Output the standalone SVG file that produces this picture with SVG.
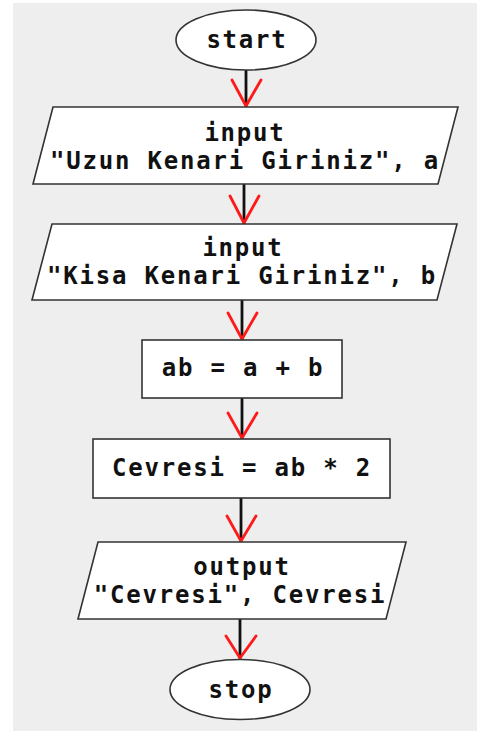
<svg xmlns="http://www.w3.org/2000/svg" width="477" height="731" viewBox="0 0 477 731">
<style>
.bg{fill:#eeeeee}
.shape{fill:#ffffff;stroke:#333333;stroke-width:1.6}
.t{font-family:"DejaVu Sans Mono","Liberation Mono",monospace;font-weight:bold;font-size:24px;letter-spacing:1.8px;fill:#111111;text-anchor:middle}
.line{stroke:#111111;stroke-width:2.8;fill:none}
.head{stroke:#ff1a1a;stroke-width:2.8;fill:none;stroke-linecap:round;stroke-linejoin:round}
</style>
<rect class="bg" x="13" y="3" width="464" height="728"/>
<g id="connectors">
  <line class="line" x1="246" y1="70" x2="246" y2="107"/>
  <polyline class="head" points="232,80 246,106 261,80"/>
  <line class="line" x1="244" y1="184" x2="244" y2="224"/>
  <polyline class="head" points="230,196 244,223 259,196"/>
  <line class="line" x1="242" y1="300" x2="242" y2="340"/>
  <polyline class="head" points="228,313 242,339 257,313"/>
  <line class="line" x1="242" y1="398" x2="242" y2="439"/>
  <polyline class="head" points="228,413 242,438 257,413"/>
  <line class="line" x1="241" y1="498" x2="241" y2="542"/>
  <polyline class="head" points="227,516 241,541 256,516"/>
  <line class="line" x1="240" y1="619" x2="240" y2="659"/>
  <polyline class="head" points="226,636 240,658 256,636"/>
</g>
<g id="start">
  <ellipse class="shape" cx="246" cy="40" rx="70" ry="30"/>
  <text class="t" x="247" y="48">start</text>
</g>
<g id="input1">
  <polygon class="shape" points="53,107 458,107 438,184 33,184"/>
  <text class="t" x="245" y="141">input</text>
  <text class="t" x="245" y="169">"Uzun Kenari Giriniz", a</text>
</g>
<g id="input2">
  <polygon class="shape" points="52,224 457,224 437,300 32,300"/>
  <text class="t" x="243" y="256">input</text>
  <text class="t" x="242" y="284">"Kisa Kenari Giriniz", b</text>
</g>
<g id="calc1">
  <rect class="shape" x="142" y="340" width="200" height="58"/>
  <text class="t" x="243" y="376">ab = a + b</text>
</g>
<g id="calc2">
  <rect class="shape" x="93" y="439" width="297" height="59"/>
  <text class="t" x="242" y="476">Cevresi = ab * 2</text>
</g>
<g id="output">
  <polygon class="shape" points="98,542 406,542 386,619 78,619"/>
  <text class="t" x="242" y="575">output</text>
  <text class="t" x="240" y="603">"Cevresi", Cevresi</text>
</g>
<g id="stop">
  <ellipse class="shape" cx="240" cy="689.5" rx="70" ry="30"/>
  <text class="t" x="241" y="698">stop</text>
</g>
</svg>
